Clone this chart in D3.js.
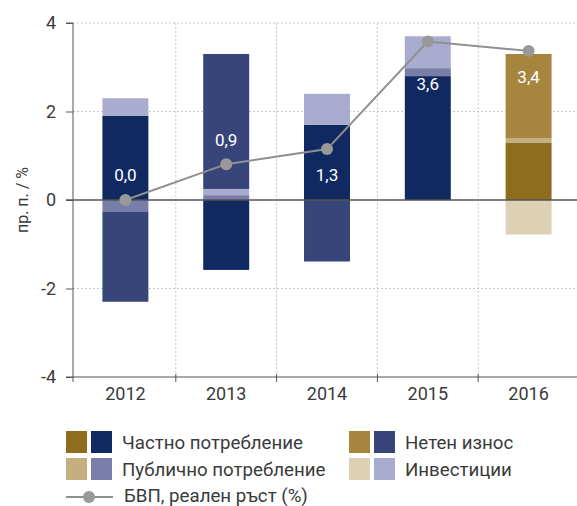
<!DOCTYPE html>
<html lang="bg">
<head>
<meta charset="utf-8">
<script src="https://cdn.jsdelivr.net/npm/d3@7"></script>
<style>
  body { margin: 0; background: #fff; }
  svg text { font-family: Roboto, "Noto Sans", sans-serif; fill: #3a3a3a; }
</style>
</head>
<body>
<div id="chart-area"></div>
<script>
var years = ["2012", "2013", "2014", "2015", "2016"];
var privateCons = [1.9, -1.58, 1.7, 2.8, 1.3];
var publicCons = [-0.27, 0.11, 0.0, 0.18, 0.1];
var investment = [0.4, 0.14, 0.7, 0.72, -0.78];
var netExports = [-2.03, 3.05, -1.39, 0.0, 1.9];
var gdpGrowth = [0.0, 0.81, 1.15, 3.58, 3.37];
var gdpLabels = ["0,0", "0,9", "1,3", "3,6", "3,4"];
var forecast = [false, false, false, false, true];
var yTicks = [-4, -2, 0, 2, 4];

var keys = ["private", "public", "investment", "netExports"];
var names = {
    private: "Частно потребление",
    public: "Публично потребление",
    netExports: "Нетен износ",
    investment: "Инвестиции"
};
var blue = {private: "#102a61", public: "#797ea9", investment: "#a9acce", netExports: "#37457a"};
var gold = {private: "#8f6d1f", public: "#c5ae80", investment: "#ddd0b4", netExports: "#a6863f"};

// label offsets from the dot, px
var labelDy = [-25, -24, 26, 42, 26];

var width = 577, height = 506;

var svg = d3.select("#chart-area").append("svg")
    .attr("width", width)
    .attr("height", height);

var table = years.map(function(y, i) {
    return {year: y, private: privateCons[i], public: publicCons[i],
        investment: investment[i], netExports: netExports[i],
        gdp: gdpGrowth[i], label: gdpLabels[i], forecast: forecast[i]};
});

var x = d3.scaleBand().domain(years).range([75, 579]).paddingInner(0.544).paddingOuter(0.272);
var y = d3.scaleLinear().domain([-4, 4]).range([377, 23]);
var step = x.step();

// grid
var grid = svg.append("g");
grid.selectAll(".hgrid").data(yTicks.filter(function(d) { return d !== 0 && d !== -4; }))
    .enter().append("line")
    .attr("x1", 73).attr("x2", width)
    .attr("y1", function(d) { return y(d); }).attr("y2", function(d) { return y(d); })
    .attr("stroke", "#c8c8c8").attr("stroke-dasharray", "2,2");
grid.selectAll(".vgrid").data(years.slice(1))
    .enter().append("line")
    .attr("x1", function(d) { return x(d) - step * x.paddingInner() / 2; })
    .attr("x2", function(d) { return x(d) - step * x.paddingInner() / 2; })
    .attr("y1", y(4)).attr("y2", y(-4))
    .attr("stroke", "#c8c8c8").attr("stroke-dasharray", "2,2");

// bars
var stack = d3.stack().keys(keys).offset(d3.stackOffsetDiverging);
var series = stack(table);

svg.append("g").selectAll("g").data(series).enter().append("g")
    .selectAll("rect").data(function(s) { return s.map(function(d) { d.key = s.key; return d; }); })
    .enter().append("rect")
    .attr("x", function(d) { return x(d.data.year); })
    .attr("width", x.bandwidth())
    .attr("y", function(d) { return y(Math.max(d[0], d[1])); })
    .attr("height", function(d) { return Math.abs(y(d[0]) - y(d[1])); })
    .attr("fill", function(d) { return d.data.forecast ? gold[d.key] : blue[d.key]; });

// zero line
svg.append("line")
    .attr("x1", 66).attr("x2", width)
    .attr("y1", y(0)).attr("y2", y(0))
    .attr("stroke", "#555").attr("stroke-width", 1.5);

// y axis
var yAxis = d3.axisLeft(y).tickValues(yTicks).tickSize(7).tickPadding(10)
    .tickFormat(function(d) { return d; });
var yG = svg.append("g").attr("transform", "translate(73,0)").call(yAxis);
yG.select(".domain").attr("stroke", "#555").attr("d", "M-7,23H0V382");
yG.selectAll(".tick line").attr("stroke", "#555");
yG.selectAll("text").attr("font-size", "18px").attr("fill", "#3a3a3a").attr("font-family", "Roboto, sans-serif");

// x axis
var xAxis = d3.axisBottom(x).tickSize(0).tickPadding(10);
var xG = svg.append("g").attr("transform", "translate(0," + y(-4) + ")").call(xAxis);
xG.select(".domain").attr("stroke", "#555").attr("d", "M66,0H" + width);
xG.selectAll("text").attr("font-size", "18px").attr("fill", "#3a3a3a").attr("font-family", "Roboto, sans-serif");
xG.selectAll(".sep").data(years.slice(1)).enter().append("line")
    .attr("x1", function(d) { return x(d) - step * x.paddingInner() / 2; })
    .attr("x2", function(d) { return x(d) - step * x.paddingInner() / 2; })
    .attr("y1", -3).attr("y2", 5)
    .attr("stroke", "#555");

svg.append("text")
    .attr("transform", "translate(22," + y(0) + ") rotate(-90)")
    .attr("text-anchor", "middle")
    .attr("dominant-baseline", "central")
    .attr("font-size", "16px")
    .text("пр. п. / %");

// GDP line
var line = d3.line()
    .x(function(d) { return x(d.year) + x.bandwidth() / 2; })
    .y(function(d) { return y(d.gdp); });

svg.append("path").datum(table)
    .attr("d", line)
    .attr("fill", "none")
    .attr("stroke", "#8f8f8f")
    .attr("stroke-width", 2);

svg.selectAll(".dot").data(table).enter().append("circle")
    .attr("cx", function(d) { return x(d.year) + x.bandwidth() / 2; })
    .attr("cy", function(d) { return y(d.gdp); })
    .attr("r", 6)
    .attr("fill", "#999");

svg.selectAll(".lbl").data(table).enter().append("text")
    .attr("x", function(d) { return x(d.year) + x.bandwidth() / 2; })
    .attr("y", function(d, i) { return y(d.gdp) + labelDy[i]; })
    .attr("text-anchor", "middle")
    .attr("dominant-baseline", "central")
    .attr("font-size", "17px")
    .style("fill", "#fff")
    .text(function(d) { return d.label; });

// legend
var legendItems = [
    {key: "private", x: 66, y: 431},
    {key: "public", x: 66, y: 458},
    {key: "netExports", x: 349, y: 431},
    {key: "investment", x: 349, y: 458}
];
var legend = svg.append("g");
legendItems.forEach(function(it) {
    legend.append("rect").attr("x", it.x).attr("y", it.y).attr("width", 21).attr("height", 22)
        .attr("fill", gold[it.key]);
    legend.append("rect").attr("x", it.x + 25).attr("y", it.y).attr("width", 21).attr("height", 22)
        .attr("fill", blue[it.key]);
    legend.append("text").attr("x", it.x + 56).attr("y", it.y + 12)
        .attr("dominant-baseline", "central")
        .attr("font-size", "18.7px")
        .text(names[it.key]);
});
legend.append("line").attr("x1", 66).attr("x2", 113).attr("y1", 497).attr("y2", 497)
    .attr("stroke", "#8f8f8f").attr("stroke-width", 2);
legend.append("circle").attr("cx", 89).attr("cy", 497).attr("r", 6).attr("fill", "#999");
legend.append("text").attr("x", 124).attr("y", 496)
    .attr("dominant-baseline", "central")
    .attr("font-size", "18.7px")
    .text("БВП, реален ръст (%)");
</script>
</body>
</html>
